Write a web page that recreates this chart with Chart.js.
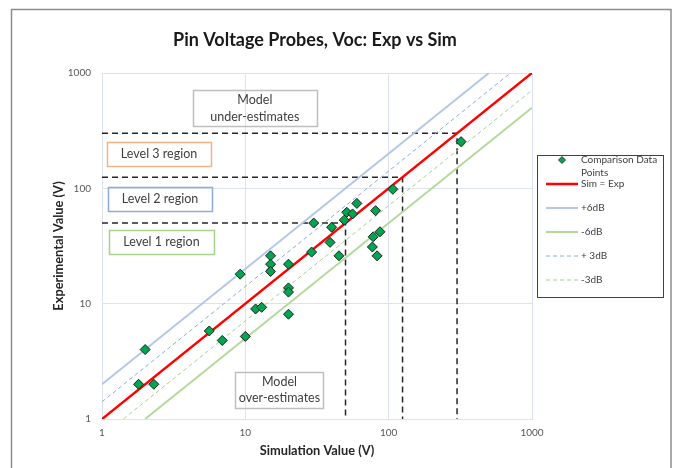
<!DOCTYPE html>
<html>
<head>
<meta charset="utf-8">
<script src="https://cdn.jsdelivr.net/npm/chart.js@4.4.1/dist/chart.umd.min.js"></script>
<style>
  html, body { margin: 0; padding: 0; background: #fff; }
  #wrap { position: relative; width: 677px; height: 468px; }
</style>
</head>
<body>
<div id="wrap"><canvas id="chart" width="677" height="468"></canvas></div>
<script>
// Comparison data points (V)
const simValues = [1.8, 2.0, 2.3, 5.6, 6.9, 9.2, 10, 11.8, 13, 15, 15, 15, 20, 20, 20, 20, 29, 30, 39, 40, 45, 49, 51, 56, 60, 77, 78, 81, 83, 87, 107, 320];
const expValues = [2.0, 4.0, 2.0, 5.8, 4.8, 18, 5.2, 9.0, 9.3, 26, 22, 19, 22, 13.7, 12.6, 8.1, 28, 50, 34, 46, 26, 53, 62, 60, 74, 31, 38, 64, 26, 42, 98, 254];

// Reference lines (end points, V)
const simExpX = [1, 1000];
const simExpY = [1, 1000];
const plus6X = [1, 500];
const plus6Y = [2, 1000];
const minus6X = [2, 1000];
const minus6Y = [1, 500];
const plus3X = [1, 708];
const plus3Y = [1.41, 1000];
const minus3X = [1.41, 1000];
const minus3Y = [1, 708];

// Level region limits (V)
const levelLimits = [50, 125, 300];

// Axis ticks
const axisTicks = [1, 10, 100, 1000];

const chartTitle = 'Pin Voltage Probes, Voc: Exp vs Sim';
const chartFont = 'Lato, "Open Sans", sans-serif';
const textColor = '#404040';

function toPoints(xs, ys) {
    return xs.map((x, i) => ({ x: x, y: ys[i] }));
}

// Text boxes on the plot, anchored at (sim, exp) values
const noteBoxes = [
    { lines: ['Model', 'under-estimates'], sim: 11.65, exp: 493, w: 124, h: 36, border: '#bfbfbf' },
    { lines: ['Level 3 region'], sim: 2.5, exp: 197, w: 104, h: 24, border: '#f4b183' },
    { lines: ['Level 2 region'], sim: 2.54, exp: 80.3, w: 104, h: 24, border: '#8faadc' },
    { lines: ['Level 1 region'], sim: 2.6, exp: 34.1, w: 105, h: 24, border: '#a9d18e' },
    { lines: ['Model', 'over-estimates'], sim: 17.3, exp: 1.78, w: 88, h: 36, border: '#bfbfbf' }
];

// Outer frame and title
const framePlugin = {
    id: 'frame',
    beforeDraw(chart) {
        const ctx = chart.ctx;
        ctx.save();
        ctx.fillStyle = '#ffffff';
        ctx.fillRect(0, 0, chart.width, chart.height);
        ctx.strokeStyle = '#8c8c8c';
        ctx.lineWidth = 1.5;
        ctx.strokeRect(11.5, 9.5, 659.5, chart.height + 20);
        ctx.fillStyle = '#1a1a1a';
        ctx.font = 'bold 18px ' + chartFont;
        ctx.textAlign = 'center';
        ctx.textBaseline = 'middle';
        ctx.fillText(chartTitle, 315, 40);
        ctx.restore();
    }
};

// Text boxes
const notesPlugin = {
    id: 'notes',
    beforeDatasetsDraw(chart) {
        const ctx = chart.ctx;
        const xs = chart.scales.x;
        const ys = chart.scales.y;
        ctx.save();
        ctx.font = '12.5px ' + chartFont;
        ctx.textAlign = 'center';
        ctx.textBaseline = 'middle';
        noteBoxes.forEach(box => {
            const cx = xs.getPixelForValue(box.sim);
            const cy = ys.getPixelForValue(box.exp);
            ctx.strokeStyle = box.border;
            ctx.lineWidth = 1.5;
            ctx.strokeRect(Math.round(cx - box.w / 2) + 0.5, Math.round(cy - box.h / 2) + 0.5, box.w, box.h);
            ctx.fillStyle = textColor;
            const lh = 16.5;
            let y = cy - (box.lines.length - 1) * lh / 2;
            box.lines.forEach(line => {
                ctx.fillText(line, cx, y);
                y += lh;
            });
        });
        ctx.restore();
    }
};

// Boxed legend on the right
const legendBox = { x: 537, y: 155, w: 126, h: 142, first: 160, pitch: 24, textX: 581, maxText: 80 };
const legendPlugin = {
    id: 'boxLegend',
    afterDraw(chart) {
        const ctx = chart.ctx;
        ctx.save();
        ctx.strokeStyle = '#404040';
        ctx.lineWidth = 1;
        ctx.strokeRect(legendBox.x + 0.5, legendBox.y + 0.5, legendBox.w, legendBox.h);
        ctx.font = '10px ' + chartFont;
        ctx.textBaseline = 'middle';
        ctx.textAlign = 'left';
        let row = 0;
        chart.data.datasets.forEach(ds => {
            if (!ds.legendText) return;
            const y = legendBox.first + row * legendBox.pitch;
            if (ds.showLine === false) {
                const r = 3.5;
                const cx = 562;
                ctx.beginPath();
                ctx.moveTo(cx, y - r);
                ctx.lineTo(cx + r, y);
                ctx.lineTo(cx, y + r);
                ctx.lineTo(cx - r, y);
                ctx.closePath();
                ctx.fillStyle = ds.backgroundColor;
                ctx.fill();
                ctx.strokeStyle = ds.borderColor;
                ctx.lineWidth = 0.8;
                ctx.stroke();
            } else {
                ctx.beginPath();
                ctx.setLineDash(ds.borderDash || []);
                ctx.strokeStyle = ds.borderColor;
                ctx.lineWidth = ds.borderWidth;
                ctx.moveTo(546, y);
                ctx.lineTo(578, y);
                ctx.stroke();
                ctx.setLineDash([]);
            }
            // wrap long labels
            const words = ds.legendText.split(' ');
            const lines = [];
            let cur = '';
            words.forEach(w => {
                const test = cur ? cur + ' ' + w : w;
                if (ctx.measureText(test).width > legendBox.maxText && cur) {
                    lines.push(cur);
                    cur = w;
                } else {
                    cur = test;
                }
            });
            lines.push(cur);
            ctx.fillStyle = textColor;
            lines.forEach((line, i) => ctx.fillText(line, legendBox.textX, y + i * 13));
            row++;
        });
        ctx.restore();
    }
};

function refLine(label, xs, ys, color, width, dash) {
    return {
        type: 'line',
        legendText: label,
        data: toPoints(xs, ys),
        borderColor: color,
        borderWidth: width,
        borderDash: dash || [],
        pointRadius: 0,
        fill: false,
        tension: 0
    };
}

function levelLine(limit) {
    return {
        type: 'line',
        data: toPoints([1, limit, limit], [limit, limit, 1]),
        borderColor: '#262626',
        borderWidth: 1.5,
        borderDash: [6, 4],
        pointRadius: 0,
        fill: false,
        tension: 0
    };
}

const datasets = [
    {
        type: 'scatter',
        legendText: 'Comparison Data Points',
        data: toPoints(simValues, expValues),
        showLine: false,
        pointStyle: 'rectRot',
        pointRadius: 5,
        backgroundColor: '#00a550',
        borderColor: '#1f1f1f',
        borderWidth: 1
    },
    refLine('Sim = Exp', simExpX, simExpY, '#ff0000', 2.5),
    refLine('+6dB', plus6X, plus6Y, '#b4c7e7', 2),
    refLine('-6dB', minus6X, minus6Y, '#b5d99c', 2),
    refLine('+ 3dB', plus3X, plus3Y, '#8faadc', 1, [4, 3]),
    refLine('-3dB', minus3X, minus3Y, '#a9d18e', 1, [4, 3])
].concat(levelLimits.map(levelLine));

const gridColor = '#dde3ee';

new Chart(document.getElementById('chart'), {
    type: 'scatter',
    data: { datasets: datasets },
    options: {
        responsive: false,
        animation: false,
        devicePixelRatio: 1,
        layout: { padding: { left: 0, right: 145, top: 73, bottom: 0 } },
        plugins: {
            legend: { display: false },
            tooltip: { enabled: false },
            title: { display: false }
        },
        scales: {
            x: {
                type: 'logarithmic',
                min: 1,
                max: 1000,
                afterBuildTicks(scale) { scale.ticks = axisTicks.map(v => ({ value: v })); },
                afterFit(scale) { scale.height = 49; },
                ticks: {
                    color: '#595959',
                    font: { family: chartFont, size: 10 },
                    padding: 8,
                    maxRotation: 0,
                    callback: v => String(v)
                },
                grid: { color: gridColor, drawTicks: false },
                border: { color: gridColor },
                title: {
                    display: true,
                    text: 'Simulation Value (V)',
                    color: '#262626',
                    font: { family: chartFont, size: 12.8, weight: 'bold' },
                    padding: { top: 9, bottom: 9 }
                }
            },
            y: {
                type: 'logarithmic',
                min: 1,
                max: 1000,
                afterBuildTicks(scale) { scale.ticks = axisTicks.map(v => ({ value: v })); },
                afterFit(scale) { scale.width = 102; },
                ticks: {
                    color: '#595959',
                    font: { family: chartFont, size: 10 },
                    padding: 11,
                    callback: v => String(v)
                },
                grid: { color: gridColor, drawTicks: false },
                border: { color: gridColor },
                title: {
                    display: true,
                    text: 'Experimental Value (V)',
                    color: '#262626',
                    font: { family: chartFont, size: 12.8, weight: 'bold' },
                    padding: { top: 51, bottom: 0 }
                }
            }
        }
    },
    plugins: [framePlugin, notesPlugin, legendPlugin]
});
</script>
</body>
</html>
